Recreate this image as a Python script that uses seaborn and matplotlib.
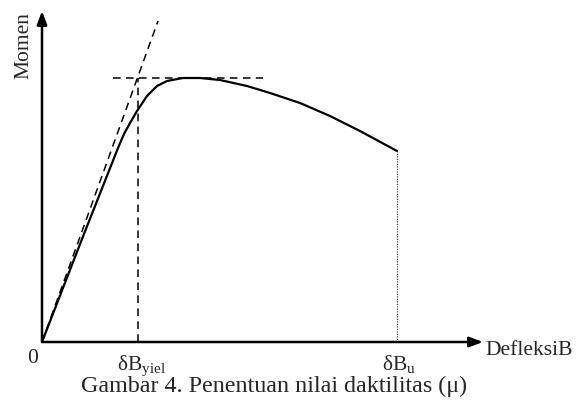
import numpy as np
import pandas as pd
import matplotlib
matplotlib.use("Agg")
import matplotlib.pyplot as plt
import seaborn as sns

# moment-deflection curve, in pixel-ish units measured from the origin
deflection = [0, 40, 76, 82, 88, 95, 105, 115, 125, 141, 158, 178, 205, 228,
              258, 288, 318, 355]
moment = [0, 103, 194, 208, 219, 231, 246, 256, 261, 264, 264, 262, 256, 249,
          239, 226, 211, 191]

# construction lines
tangent_x = [0, 116]
tangent_y = [0, 321]
yield_level = 264
yield_span = [71, 221]
d_yield = 96
d_ult = 355
d_ult_moment = 191

x_label = "DefleksiB"
y_label = "Momen"
caption = "Gambar 4. Penentuan nilai daktilitas (\u03bc)"
tick_yield = "$\\mathrm{\u03b4B}_{\\mathrm{yiel}}$"
tick_ult = "$\\mathrm{\u03b4B}_{\\mathrm{u}}$"

sns.set_style("white")
plt.rcParams["font.family"] = ["Liberation Serif", "DejaVu Serif"]
plt.rcParams["mathtext.fontset"] = "custom"
plt.rcParams["mathtext.rm"] = "Liberation Serif"
plt.rcParams["mathtext.it"] = "Liberation Serif:italic"
plt.rcParams["mathtext.bf"] = "Liberation Serif:bold"

fig = plt.figure(figsize=(5.76, 4.10), dpi=100)
ax = fig.add_axes([0, 0, 1, 1])
ax.set_xlim(-42, 534)
ax.set_ylim(-67, 343)
ax.axis("off")

df = pd.DataFrame({"d": deflection, "m": moment})
sns.lineplot(data=df, x="d", y="m", ax=ax, color="black", lw=1.6, sort=False)

dash = (0, (5, 3.5))
ax.plot(tangent_x, tangent_y, color="black", lw=1.1, ls=dash)
ax.plot(yield_span, [yield_level, yield_level], color="black", lw=1.1, ls=dash)
ax.plot([d_yield, d_yield], [0, yield_level], color="black", lw=1.1, ls=dash)
ax.plot([d_ult, d_ult], [0, d_ult_moment], color="#444444", lw=0.9, ls=(0, (1, 1)))

# axes with arrow heads
arrow = dict(arrowstyle="-|>,head_length=0.8,head_width=0.3", color="black", lw=1.8,
             shrinkA=0, shrinkB=0)
ax.annotate("", xy=(0, 331), xytext=(0, 0), arrowprops=arrow)
ax.annotate("", xy=(441, 0), xytext=(0, 0), arrowprops=arrow)

fs = 15.5
ax.text(-9.5, -15.5, "0", ha="center", va="center", fontsize=fs)
ax.text(75, -27, tick_yield, ha="left", va="baseline", fontsize=fs)
ax.text(340, -27, tick_ult, ha="left", va="baseline", fontsize=fs)
ax.text(443, -12, x_label, ha="left", va="baseline", fontsize=fs)
ax.text(-18, 297.5, y_label, ha="center", va="center", rotation=90, fontsize=fs)
ax.text(232, -49, caption, ha="center", va="baseline", fontsize=17.3)

fig.savefig("out.png", dpi=100)
